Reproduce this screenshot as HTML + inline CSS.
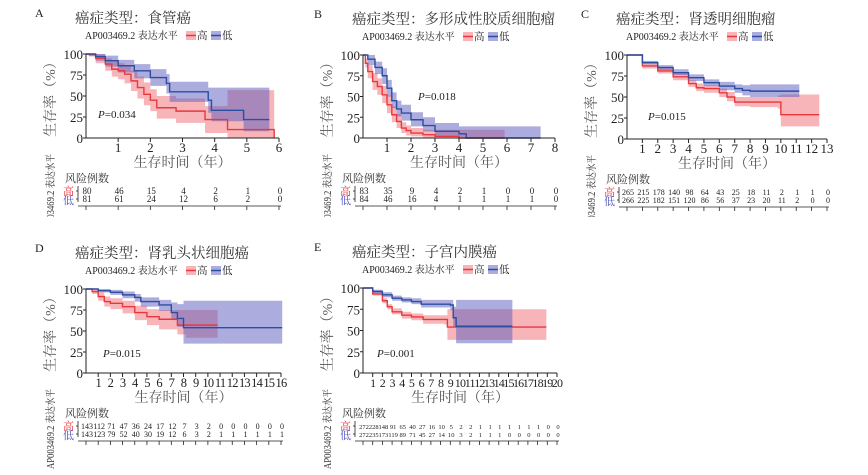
<!DOCTYPE html>
<html><head><meta charset="utf-8"><style>
html,body{margin:0;padding:0;background:#fff;}
svg{display:block;}
text{font-family:"Liberation Serif","Noto Serif CJK SC","Noto Sans CJK SC",serif;}
</style></head><body>
<svg id="fig" width="868" height="475" viewBox="0 0 868 475" xmlns="http://www.w3.org/2000/svg">
<defs><clipPath id="clipTop"><rect x="0" y="0" width="868" height="217"/></clipPath></defs>
</svg>
<script>
// ---- Panel A: 食管癌 ----
const aHiT=[0,0.1,0.3,0.6,0.8,1.0,1.2,1.4,1.6,1.8,2.0,2.2,2.8,3.7,4.4,5.85];
const aHiS=[100,99,95,88,82,80,76,68,60,52,45,36,32,22,10,0];
const aHiL=[100,97,89,80,73,70,65,56,47,39,32,23,18,6,0,0];
const aHiU=[100,100,100,95,91,89,86,80,73,66,58,50,47,38,57,57];
const aLoT=[0,0.3,0.6,1.0,1.5,2.0,2.5,2.6,3.8,3.9,4.9,5.7];
const aLoS=[100,97,92,86,80,72,65,55,45,33,22,22];
const aLoL=[100,92,85,78,71,62,53,43,30,20,8,8];
const aLoU=[100,100,98,93,88,82,76,67,60,60,60,60];
const aRiskHi=[80,46,15,4,2,1,0];
const aRiskLo=[81,61,24,12,6,2,0];
// ---- Panel B: 多形成性胶质细胞瘤 ----
const bHiT=[0,0.1,0.2,0.4,0.6,0.8,1.0,1.2,1.4,1.6,1.8,2.0,2.5,3.0,4.0,5.9];
const bHiS=[100,90,80,68,62,52,40,28,20,12,9,6,4,2,0,0];
const bHiL=[100,85,72,58,52,42,30,19,12,6,3,2,0,0,0,0];
const bHiU=[100,95,88,78,72,63,51,38,29,19,15,12,10,10,10,10];
const bLoT=[0,0.2,0.5,0.8,1.0,1.2,1.4,1.6,2.0,2.5,3.0,4.0,4.3,7.4];
const bLoS=[100,95,85,75,60,45,35,30,22,15,8,5,0,0];
const bLoL=[100,88,77,65,50,36,26,21,14,8,3,1,0,0];
const bLoU=[100,100,92,84,70,55,45,40,31,25,18,14,14,14];
const bRiskHi=[83,35,9,4,2,1,0,0,0];
const bRiskLo=[84,46,16,4,1,1,1,1,0];
// ---- Panel C: 肾透明细胞瘤 ----
const cHiT=[0,1,2,3,4,4.5,5,6,6.5,7,8,9,9.8,10,12.5];
const cHiS=[100,87,81,74,66,61,60,55,50,44,44,44,44,29,29];
const cHiL=[100,84,78,70,62,57,55,50,45,39,38,38,36,15,15];
const cHiU=[100,90,84,78,70,66,64,60,56,50,50,50,52,53,53];
const cLoT=[0,1,2,3,4,5,6,7,7.5,8,11.2];
const cLoS=[100,91,85,79,73,67,63,60,58,57,57];
const cLoL=[100,89,82,76,69,63,58,55,52,50,50];
const cLoU=[100,93,88,83,77,71,68,65,64,65,65];
const cRiskHi=[265,215,178,140,98,64,43,25,18,11,2,1,1,0];
const cRiskLo=[266,225,182,151,120,86,56,37,23,20,11,2,0,0];
// ---- Panel D: 肾乳头状细胞癌 ----
const dHiT=[0,0.5,1,1.5,2,3,4,5,6,7.5,8.2,10.8];
const dHiS=[100,97,91,85,83,79,72,67,64,57,57,57];
const dHiL=[100,94,86,79,76,71,63,57,52,46,42,42];
const dHiU=[100,100,96,91,89,86,80,76,75,75,75,75];
const dLoT=[0,1,2,3,4,4.5,6,7,7.5,8,16.1];
const dLoS=[100,98,96,93,90,85,81,72,65,54,54];
const dLoL=[100,96,93,89,85,79,74,63,55,35,35];
const dLoU=[100,100,99,97,94,90,87,84,82,86,86];
const dRiskHi=[143,112,71,47,36,24,17,12,7,3,2,0,0,0,0,0,0];
const dRiskLo=[143,123,79,52,40,30,19,12,6,3,2,1,1,1,1,1,1];
// ---- Panel E: 子宫内膜癌 ----
const eHiT=[0,1,2,2.5,3,4,5,6.2,8.4,8.7,18.9];
const eHiS=[100,93,85,78,72,68,66,63,63,54,54];
const eHiL=[100,91,82,75,69,64,62,58,57,39,39];
const eHiU=[100,96,88,81,76,72,70,68,68,75,75];
const eLoT=[0,1,2,3,4,5,6,9,9.3,9.6,15.4];
const eLoS=[100,96,92,88,86,84,81,80,65,55,55];
const eLoL=[100,94,89,85,83,81,77,74,55,35,35];
const eLoU=[100,98,95,91,89,88,86,86,78,86,86];
const eRiskHi=[272,228,148,91,65,40,27,16,10,5,2,2,1,1,1,1,1,1,1,0,0];
const eRiskLo=[272,235,173,119,89,71,45,27,14,10,3,2,1,1,1,0,0,0,0,0,0];
const yTicks=[0,25,50,75,100];

const NS='http://www.w3.org/2000/svg';
const svg=document.getElementById('fig');
function mk(tag,attrs,parent,txt){
  const e=document.createElementNS(NS,tag);
  for(const k in attrs)e.setAttribute(k,attrs[k]);
  if(txt!==undefined)e.textContent=txt;
  (parent||svg).appendChild(e);return e;
}
function stepPts(T,V,xs,ys){
  const p=[];
  for(let i=0;i<T.length;i++){
    if(i>0)p.push([xs(T[i]),ys(V[i-1])]);
    p.push([xs(T[i]),ys(V[i])]);
  }
  return p;
}
function panel(cfg){
  const g=mk('g',{},svg);
  
  
  if(cfg.clip)g.setAttribute('clip-path','url(#clipTop)');
  const ox=cfg.ox,y0=cfg.y0,y100=cfg.y100;
  const xs=t=>ox+(cfg.xend-ox)*t/cfg.xmax;
  const ys=v=>y0-(y0-y100)*v/100;
  let e;
  e=mk('text',{x:cfg.lx,y:y100-37,'font-size':12,fill:'#222'},g,cfg.letter);
  
  e=mk('text',{x:ox-11,y:y100-31,'font-size':14.5,fill:'#333','font-family':'"Liberation Sans","Noto Sans CJK SC",sans-serif'},g,'癌症类型：'+cfg.title);
  
  const lg=mk('g',{},g);
  
  mk('text',{x:ox-1,y:y100-15,'font-size':10,fill:'#222'},lg,'AP003469.2 表达水平');
  const lx=ox+100;
  mk('rect',{x:lx,y:y100-23,width:10,height:9,fill:'rgba(238,90,100,0.45)'},lg);
  mk('line',{x1:lx,x2:lx+10,y1:y100-18.5,y2:y100-18.5,stroke:'#e8383d','stroke-width':1.5},lg);
  mk('text',{x:lx+11,y:y100-15,'font-size':10.5,fill:'#222'},lg,'高');
  mk('rect',{x:lx+25,y:y100-23,width:10,height:9,fill:'rgba(90,90,190,0.5)'},lg);
  mk('line',{x1:lx+25,x2:lx+35,y1:y100-18.5,y2:y100-18.5,stroke:'#2a4fa0','stroke-width':1.5},lg);
  mk('text',{x:lx+36,y:y100-15,'font-size':10.5,fill:'#222'},lg,'低');
  const groups=[['hi',cfg.hi,'rgba(238,90,100,0.45)','#e8383d'],['lo',cfg.lo,'rgba(90,90,190,0.5)','#2a4fa0']];
  groups.forEach(([nm,s,fill])=>{
    const up=stepPts(s.T,s.U,xs,ys),lo=stepPts(s.T,s.L,xs,ys).reverse();
    const p=mk('polygon',{points:up.concat(lo).map(q=>q.join(',')).join(' '),fill:fill},g);
    
  });
  groups.forEach(([nm,s,fill,stroke])=>{
    const pts=stepPts(s.T,s.S,xs,ys);
    const p=mk('polyline',{points:pts.map(q=>q.join(',')).join(' '),fill:'none',stroke:stroke,'stroke-width':1.4},g);
    
  });
  const ax=mk('g',{stroke:'#222','stroke-width':1},g);
  
  mk('line',{x1:ox,x2:ox,y1:y100,y2:y0},ax);
  mk('line',{x1:ox,x2:xs(cfg.xmax),y1:y0,y2:y0},ax);
  yTicks.forEach(v=>{
    mk('line',{x1:ox-3,x2:ox,y1:ys(v),y2:ys(v)},ax);
    const t=mk('text',{x:ox-3,y:ys(v)+5,'font-size':13,'text-anchor':'end',fill:'#222',stroke:'none'},g,String(v));
    
  });
  for(let k=1;k<=cfg.xmax;k++){
    mk('line',{x1:xs(k),x2:xs(k),y1:y0,y2:y0+4},ax);
    const t=mk('text',{x:xs(k),y:y0+14,'font-size':cfg.tfs,'text-anchor':'middle',fill:'#222',stroke:'none'},g,String(k));
    if(cfg.xmax>14)t.setAttribute('letter-spacing','-0.8');
    
  }
  e=mk('text',{x:ox-31,y:(y0+y100)/2,'font-size':14,fill:'#555','text-anchor':'middle',transform:`rotate(-90 ${ox-31} ${(y0+y100)/2})`,'font-family':'"Liberation Sans","Noto Sans CJK SC",sans-serif'},g,'生存率（%）');
  
  e=mk('text',{x:(ox+xs(cfg.xmax))/2,y:y0+29,'font-size':14,fill:'#555','text-anchor':'middle','font-family':'"Liberation Sans","Noto Sans CJK SC",sans-serif'},g,'生存时间（年）');
  
  const rx=ox-32,ry=y0+96;
  e=mk('text',{x:rx,y:ry,'font-size':10,fill:'#333',transform:`rotate(-90 ${rx} ${ry})`,textLength:80,lengthAdjust:'spacingAndGlyphs'},g,'AP003469.2 表达水平');
  
  e=mk('text',{x:ox-21,y:y0+44,'font-size':11,fill:'#333'},g,'风险例数');
  
  mk('text',{x:ox-23,y:y0+57,'font-size':11,fill:'#e8383d'},g,'高');
  mk('text',{x:ox-23,y:y0+66,'font-size':11,fill:'#5050c0'},g,'低');
  const rt=mk('g',{stroke:'#222','stroke-width':0.8},g);
  
  mk('line',{x1:ox-8,x2:ox-8,y1:y0+48,y2:y0+64},rt);
  mk('line',{x1:ox-10,x2:ox-8,y1:y0+53,y2:y0+53},rt);
  mk('line',{x1:ox-10,x2:ox-8,y1:y0+61,y2:y0+61},rt);
  mk('line',{x1:ox-8,x2:xs(cfg.xmax)+2,y1:y0+68,y2:y0+68},rt);
  for(let k=0;k<=cfg.xmax;k++)mk('line',{x1:xs(k),x2:xs(k),y1:y0+68,y2:y0+72},rt);
  cfg.rHi.forEach((v,k)=>{
    const t=mk('text',{x:xs(k)+1,y:y0+56,'font-size':cfg.rfs,'text-anchor':'middle',fill:'#222'},g,String(v));
    
  });
  cfg.rLo.forEach((v,k)=>{
    const t=mk('text',{x:xs(k)+1,y:y0+64,'font-size':cfg.rfs,'text-anchor':'middle',fill:'#222'},g,String(v));
    
  });
}
panel({letter:'A',lx:35,title:'食管癌',ox:86,y0:138,y100:54,xmax:6,xend:279,tfs:13,rfs:9,clip:true,
  hi:{T:aHiT,S:aHiS,L:aHiL,U:aHiU},lo:{T:aLoT,S:aLoS,L:aLoL,U:aLoU},rHi:aRiskHi,rLo:aRiskLo});
panel({letter:'B',lx:314,title:'多形成性胶质细胞瘤',ox:363,y0:138,y100:55,xmax:8,xend:555,tfs:13,rfs:9,clip:true,
  hi:{T:bHiT,S:bHiS,L:bHiL,U:bHiU},lo:{T:bLoT,S:bLoS,L:bLoL,U:bLoU},rHi:bRiskHi,rLo:bRiskLo});
panel({letter:'C',lx:581,title:'肾透明细胞瘤',ox:627,y0:139,y100:55,xmax:13,xend:827,tfs:13,rfs:8,clip:true,
  hi:{T:cHiT,S:cHiS,L:cHiL,U:cHiU},lo:{T:cLoT,S:cLoS,L:cLoL,U:cLoU},rHi:cRiskHi,rLo:cRiskLo});
panel({letter:'D',lx:35,title:'肾乳头状细胞癌',ox:86,y0:373,y100:289,xmax:16,xend:281,tfs:12.5,rfs:8,clip:false,
  hi:{T:dHiT,S:dHiS,L:dHiL,U:dHiU},lo:{T:dLoT,S:dLoS,L:dLoL,U:dLoU},rHi:dRiskHi,rLo:dRiskLo});
panel({letter:'E',lx:314,title:'子宫内膜癌',ox:363,y0:373,y100:288,xmax:20,xend:557,tfs:12,rfs:6.5,clip:false,
  hi:{T:eHiT,S:eHiS,L:eHiL,U:eHiU},lo:{T:eLoT,S:eLoS,L:eLoL,U:eLoU},rHi:eRiskHi,rLo:eRiskLo});
[[98,118,'0.034'],[418,100,'0.018'],[648,120,'0.015'],[103,357,'0.015'],[377,357,'0.001']].forEach(([x,y,p])=>{
  const t=mk('text',{x:x,y:y,'font-size':11,fill:'#222'});
  
  mk('tspan',{'font-style':'italic'},t,'P');
  mk('tspan',{},t,'='+p);
});
</script>
</body></html>
